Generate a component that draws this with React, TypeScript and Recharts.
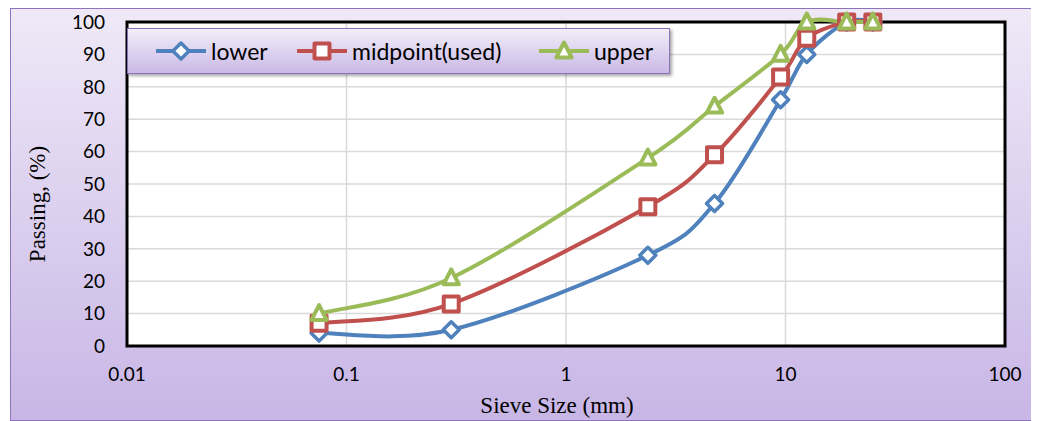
import { LineChart, Line, XAxis, YAxis, CartesianGrid, ReferenceArea } from 'recharts';

const sieveSizes = [0.075, 0.3, 2.36, 4.75, 9.5, 12.5, 19, 25];
const lower = [4, 5, 28, 44, 76, 90, 100, 100];
const midpoint = [7, 13, 43, 59, 83, 95, 100, 100];
const upper = [10, 21, 58, 74, 90, 100, 100, 100];
const xTicks = [0.01, 0.1, 1, 10, 100];
const yTicks = [0, 10, 20, 30, 40, 50, 60, 70, 80, 90, 100];

const data = sieveSizes.map((size, i) => ({
  size,
  lower: lower[i],
  midpoint: midpoint[i],
  upper: upper[i],
}));

const BLUE = '#4f81bd';
const RED = '#c0504d';
const GREEN = '#9bbb59';
const TICK_FONT = 'Lato, "Open Sans", sans-serif';
const TITLE_FONT = '"Liberation Serif", "DejaVu Serif", serif';

// Excel-like smoothing (Catmull-Rom as cubic beziers)
function smoothCurve(context: any) {
  let pts: number[][] = [];
  return {
    areaStart() {},
    areaEnd() {},
    lineStart() {
      pts = [];
    },
    lineEnd() {
      const n = pts.length;
      if (!n) return;
      context.moveTo(pts[0][0], pts[0][1]);
      for (let i = 0; i < n - 1; i++) {
        const p0 = pts[Math.max(i - 1, 0)];
        const p1 = pts[i];
        const p2 = pts[i + 1];
        const p3 = pts[Math.min(i + 2, n - 1)];
        context.bezierCurveTo(
          p1[0] + (p2[0] - p0[0]) / 6,
          p1[1] + (p2[1] - p0[1]) / 6,
          p2[0] - (p3[0] - p1[0]) / 6,
          p2[1] - (p3[1] - p1[1]) / 6,
          p2[0],
          p2[1]
        );
      }
    },
    point(x: number, y: number) {
      pts.push([+x, +y]);
    },
  };
}

function Marker({ kind, cx, cy, color }: { kind: string; cx: number; cy: number; color: string }) {
  if (kind === 'diamond') {
    const r = 8;
    return (
      <path
        d={`M${cx},${cy - r}L${cx + r},${cy}L${cx},${cy + r}L${cx - r},${cy}Z`}
        fill="#fff"
        stroke={color}
        strokeWidth={3.5}
        strokeLinejoin="round"
      />
    );
  }
  if (kind === 'square') {
    const r = 7.5;
    return (
      <rect
        x={cx - r}
        y={cy - r}
        width={2 * r}
        height={2 * r}
        fill="#fff"
        stroke={color}
        strokeWidth={4}
        strokeLinejoin="round"
      />
    );
  }
  const r = 8.5;
  return (
    <path
      d={`M${cx},${cy - r}L${cx + r * 0.9},${cy + r * 0.75}L${cx - r * 0.9},${cy + r * 0.75}Z`}
      fill="#fff"
      stroke={color}
      strokeWidth={4}
      strokeLinejoin="round"
    />
  );
}

const makeDot = (kind: string, color: string) => (props: any) =>
  <Marker key={`${kind}-${props.index}`} kind={kind} cx={props.cx} cy={props.cy} color={color} />;

const legendItems = [
  { label: 'lower', kind: 'diamond', color: BLUE, left: 27 },
  { label: 'midpoint(used)', kind: 'square', color: RED, left: 168 },
  { label: 'upper', kind: 'triangle', color: GREEN, left: 410 },
];

function LegendBox() {
  return (
    <div
      style={{
        position: 'absolute',
        left: 116,
        top: 19,
        width: 543,
        height: 46,
        boxSizing: 'border-box',
        border: '1px solid #8c72b8',
        background: 'linear-gradient(#f2eef9, #cab9e6)',
        boxShadow: '2px 2px 3px rgba(0,0,0,0.35)',
        fontFamily: TICK_FONT,
        fontSize: 23,
        color: '#000',
      }}
    >
      {legendItems.map((it) => (
        <div
          key={it.label}
          style={{ position: 'absolute', left: it.left, top: 0, height: 44, display: 'flex', alignItems: 'center' }}
        >
          <svg width={52} height={22}>
            <line x1={1} y1={11} x2={51} y2={11} stroke={it.color} strokeWidth={4} />
            <Marker kind={it.kind} cx={26} cy={11} color={it.color} />
          </svg>
          <span style={{ marginLeft: 4, whiteSpace: 'nowrap' }}>{it.label}</span>
        </div>
      ))}
    </div>
  );
}

export default function App() {
  return (
    <div
      style={{
        position: 'relative',
        width: 1025,
        height: 413,
        marginLeft: 2,
        boxSizing: 'border-box',
        border: '1px solid #8e73bd',
        background: 'linear-gradient(#efe9f7, #c8b6e6)',
      }}
    >
      <LineChart width={1023} height={411} data={data} margin={{ top: 13, right: 29, left: 0, bottom: 0 }}>
        <CartesianGrid stroke="#d9d9d9" strokeWidth={1.5} fill="#ffffff" />
        <XAxis
          dataKey="size"
          type="number"
          scale="log"
          domain={[0.01, 100]}
          ticks={xTicks}
          allowDataOverflow
          height={74}
          axisLine={false}
          tickLine={false}
          tickSize={0}
          tickMargin={22}
          tick={{ fill: '#000', fontSize: 19, fontFamily: TICK_FONT }}
          tickFormatter={(v: number) => String(v)}
          label={{
            content: (p: any) => {
              const vb = p.viewBox || { x: 0, y: 0, width: 0 };
              return (
                <text
                  x={vb.x + vb.width / 2 - 9}
                  y={vb.y + 67}
                  textAnchor="middle"
                  fontSize={23}
                  fontFamily={TITLE_FONT}
                  fill="#000"
                >
                  Sieve Size (mm)
                </text>
              );
            },
          }}
        />
        <YAxis
          type="number"
          domain={[0, 100]}
          ticks={yTicks}
          width={116}
          axisLine={false}
          tickLine={false}
          tickSize={0}
          tickMargin={22}
          tick={{ fill: '#000', fontSize: 19, fontFamily: TICK_FONT }}
          label={{
            content: (p: any) => {
              const vb = p.viewBox || { x: 0, y: 0, height: 0 };
              const x = vb.x + 26;
              const y = vb.y + vb.height / 2 + 20;
              return (
                <text
                  x={x}
                  y={y}
                  transform={`rotate(-90, ${x}, ${y})`}
                  textAnchor="middle"
                  dominantBaseline="central"
                  fontSize={23}
                  fontFamily={TITLE_FONT}
                  fill="#000"
                >
                  Passing, (%)
                </text>
              );
            },
          }}
        />
        <ReferenceArea
          x1={0.01}
          x2={100}
          y1={0}
          y2={100}
          fill="none"
          stroke="#000"
          strokeWidth={3}
          ifOverflow="visible"
        />
        <Line
          dataKey="lower"
          type={smoothCurve as any}
          stroke={BLUE}
          strokeWidth={4}
          dot={makeDot('diamond', BLUE)}
          isAnimationActive={false}
        />
        <Line
          dataKey="midpoint"
          type={smoothCurve as any}
          stroke={RED}
          strokeWidth={4}
          dot={makeDot('square', RED)}
          isAnimationActive={false}
        />
        <Line
          dataKey="upper"
          type={smoothCurve as any}
          stroke={GREEN}
          strokeWidth={4}
          dot={makeDot('triangle', GREEN)}
          isAnimationActive={false}
        />
      </LineChart>
      <LegendBox />
    </div>
  );
}
